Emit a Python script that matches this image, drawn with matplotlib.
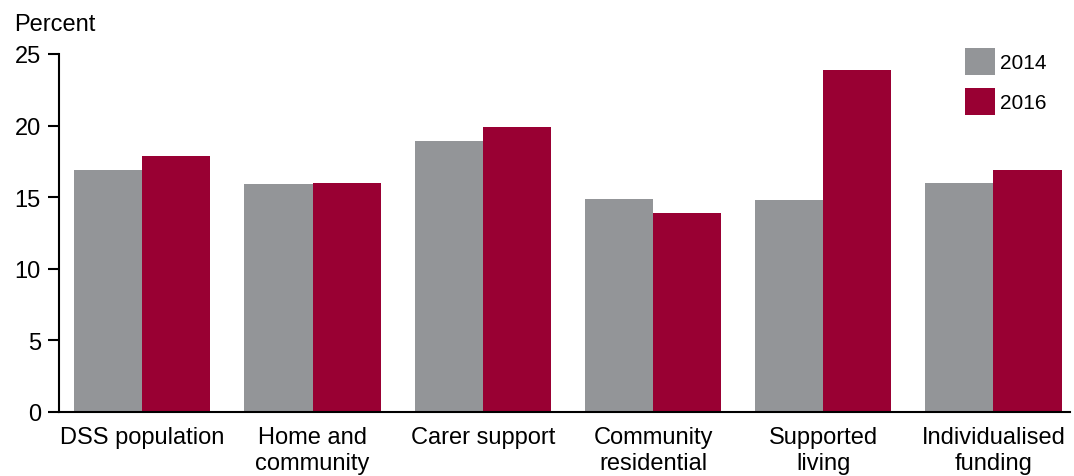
import matplotlib
matplotlib.use("Agg")
import matplotlib.pyplot as plt
import numpy as np
from matplotlib.patches import Patch

categories = ["DSS population", "Home and\ncommunity", "Carer support",
              "Community\nresidential", "Supported\nliving", "Individualised\nfunding"]
values_2014 = [16.9, 15.9, 18.9, 14.9, 14.8, 16.0]
values_2016 = [17.9, 16.0, 19.9, 13.9, 23.9, 16.9]
series_labels = ["2014", "2016"]
yticks = [0, 5, 10, 15, 20, 25]

c14 = "#939598"
c16 = "#990033"

plt.rcParams['font.family'] = ['Liberation Sans', 'DejaVu Sans']

fig = plt.figure(figsize=(10.74, 4.77), dpi=100)
ax = fig.add_axes([0.0549, 0.1342, 0.9414, 0.7505])

x = np.arange(len(categories))
w = 0.4
ax.bar(x - w/2, values_2014, width=w, color=c14, label=series_labels[0])
ax.bar(x + w/2, values_2016, width=w, color=c16, label=series_labels[1])

ax.set_xlim(-0.49, 5.45)
ax.set_ylim(0, 25)
ax.set_yticks(yticks)
ax.set_yticklabels([str(t) for t in yticks], fontsize=17)
ax.set_xticks(x)
ax.set_xticklabels(categories, fontsize=17, linespacing=1.25)
ax.tick_params(axis='x', length=0, pad=10)
ax.tick_params(axis='y', length=8, width=1.5, pad=5)

for s in ['top', 'right']:
    ax.spines[s].set_visible(False)
for s in ['left', 'bottom']:
    ax.spines[s].set_linewidth(1.5)

fig.text(14/1074, 1 - 25/477, "Percent", fontsize=17, va='center', ha='left')

handles = [Patch(facecolor=c14), Patch(facecolor=c16)]
leg = ax.legend(handles, series_labels, loc='upper left', bbox_to_anchor=(0.878, 1.07),
                frameon=False, fontsize=15, handlelength=1.4, handleheight=1.65,
                handletextpad=0.25, labelspacing=0.6)

fig.savefig("out.png", dpi=100)
